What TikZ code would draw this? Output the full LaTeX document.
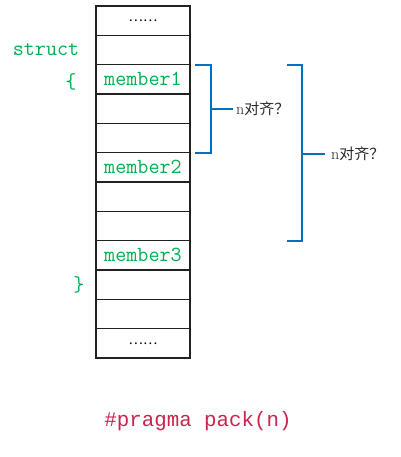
\documentclass[tikz,border=0pt]{standalone}
\usepackage{fontspec}
\newfontfamily\cjk{Noto Sans CJK SC}
\newfontfamily\codefont{Liberation Mono}
\usetikzlibrary{positioning,calc}
\definecolor{memgreen}{RGB}{0,176,80}
\definecolor{brblue}{RGB}{0,112,192}
\definecolor{codered}{RGB}{199,37,78}
\definecolor{linegray}{RGB}{34,34,34}
\definecolor{labelgray}{RGB}{40,40,40}
\tikzset{
  cell/.style={draw=linegray, line width=1.6pt, minimum width=94pt, minimum height=29.33pt, inner sep=0pt, anchor=north, outer sep=0pt},
  memtext/.style={text=memgreen, font=\ttfamily\fontsize{21.5}{23}\selectfont},
  dots/.style={font=\cjk\fontsize{13.5}{14}\selectfont},
  bracket/.style={draw=brblue, line width=1.8pt},
  qlabel/.style={anchor=west, inner sep=0pt, text=labelgray, font=\fontsize{16}{18}\selectfont}
}
\begin{document}
\begin{tikzpicture}[x=1pt,y=-1pt]
\useasboundingbox (0,0) rectangle (400,457);
% cells
\node[cell, dots] (r1) at (143,6) {……};
\node[cell] (r2) at (r1.south) {};
\node[cell, memtext] (r3) at (r2.south) {member1};
\node[cell] (r4) at (r3.south) {};
\node[cell] (r5) at (r4.south) {};
\node[cell, memtext] (r6) at (r5.south) {member2};
\node[cell] (r7) at (r6.south) {};
\node[cell] (r8) at (r7.south) {};
\node[cell, memtext] (r9) at (r8.south) {member3};
\node[cell] (r10) at (r9.south) {};
\node[cell] (r11) at (r10.south) {};
\node[cell, dots] (r12) at (r11.south) {……};
% struct labels
\node[memtext] (st) at (46,50) {struct};
\node[memtext] (ob) at (71,82) {\{};
\node[memtext] (cb) at (79,285) {\}};
% small bracket
\coordinate (b1t) at ($(r3.north east)+(5,0)$);
\coordinate (b1b) at ($(r6.north east)+(5,0)$);
\node[qlabel] (q1) at (236,109) {n{\cjk\fontsize{15}{17}\selectfont 对齐？}};
\draw[bracket] (b1t) -- ++(16,0) coordinate (b1tr) -- (b1tr |- b1b) -- (b1b);
\draw[bracket] (b1tr |- q1.west) -- ($(q1.west)+(-3,0)$);
% big bracket
\coordinate (b2t) at ($(r3.north east)+(97,0)$);
\coordinate (b2b) at ($(r9.north east)+(97,0)$);
\node[qlabel] (q2) at (331,154) {n{\cjk\fontsize{15}{17}\selectfont 对齐？}};
\draw[bracket] (b2t) -- ++(15,0) coordinate (b2tr) -- (b2tr |- b2b) -- (b2b);
\draw[bracket] (b2tr |- q2.west) -- ($(q2.west)+(-6,0)$);
% pragma
\node[text=codered, font=\codefont\fontsize{20.8}{22}\selectfont] (pr) at (198,421) {\#pragma pack(n)};
\end{tikzpicture}
\end{document}
